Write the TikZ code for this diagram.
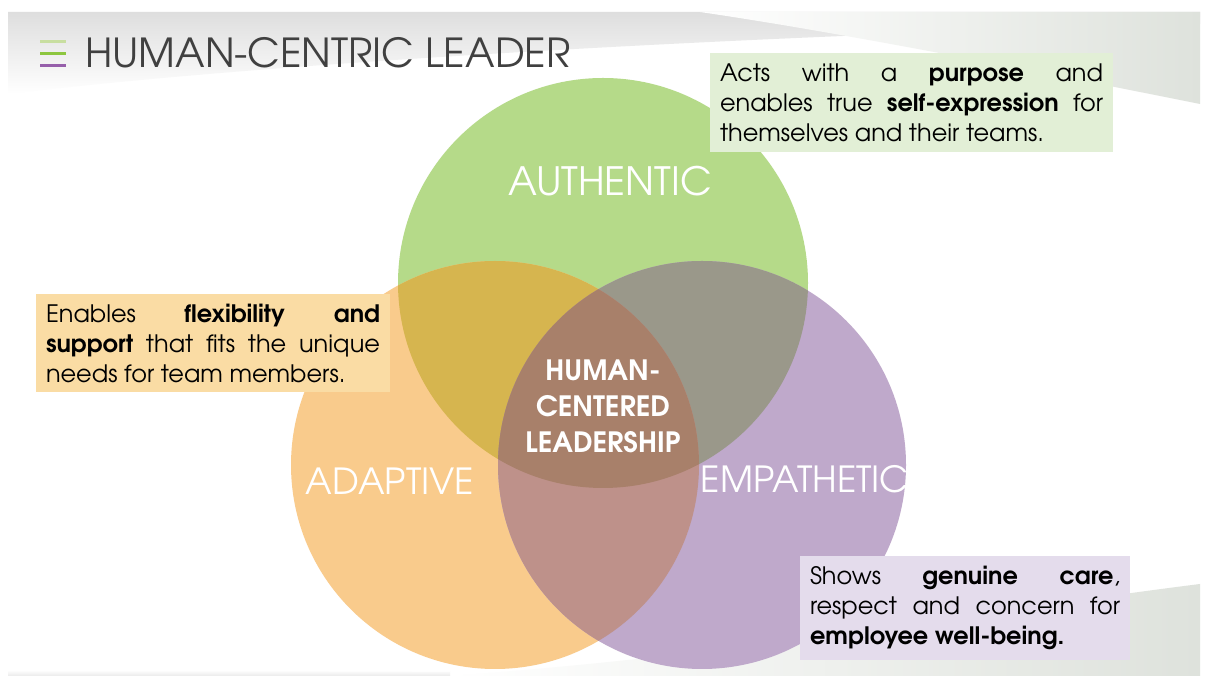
\documentclass[tikz,border=0pt]{standalone}
\usepackage{fontspec}
\setmainfont{TeX Gyre Adventor}
\usetikzlibrary{positioning}

\definecolor{authgreen}{RGB}{181,218,137}
\definecolor{adaporange}{RGB}{249,203,140}
\definecolor{emppurple}{RGB}{191,169,203}
\definecolor{goldmix}{RGB}{214,181,79}
\definecolor{graymix}{RGB}{154,152,138}
\definecolor{rosemix}{RGB}{190,145,138}
\definecolor{brownmix}{RGB}{168,128,106}
\definecolor{greenbox}{RGB}{226,239,214}
\definecolor{orangebox}{RGB}{250,220,164}
\definecolor{purplebox}{RGB}{228,220,236}
\definecolor{titlegray}{RGB}{64,64,64}
\definecolor{lightbar}{RGB}{200,222,160}
\definecolor{greenbar}{RGB}{141,198,63}
\definecolor{purplebar}{RGB}{150,95,170}
\definecolor{swoosh}{RGB}{222,226,220}

\tikzset{
  ringlabel/.style={text=white, font=\fontsize{36}{40}\selectfont},
  notebox/.style={inner sep=10pt, text width=#1, align=justify,
    font=\fontsize{24}{30}\selectfont, text=black},
}

\begin{document}
\begin{tikzpicture}[x=1pt,y=1pt]
        \useasboundingbox (0,0) rectangle (1209,684);
        \fill[white] (0,0) rectangle (1209,684);

        \shade[top color=black!13, bottom color=white] (8,672) -- (1200,672) -- (1200,660) .. controls (800,650) and (300,625) .. (8,590) -- cycle;
        \shade[left color=white, right color=swoosh] (700,672) -- (1200,672) -- (1200,580) .. controls (1050,610) and (850,650) .. (700,672) -- cycle;
        \shade[left color=white, right color=swoosh] (450,8) -- (1200,8) -- (1200,100) .. controls (1000,75) and (750,30) .. (450,8) -- cycle;
        \shade[top color=white, bottom color=black!8] (8,8) -- (450,8) -- (450,12) .. controls (300,13) and (100,14) .. (8,14) -- cycle;

        \coordinate (auth) at (603,401);
        \coordinate (adap) at (495,219);
        \coordinate (empa) at (702,219);

        \fill[authgreen] (auth) circle (205);
        \fill[adaporange] (adap) circle (204);
        \fill[emppurple] (empa) circle (204);
        \begin{scope}
            \clip (auth) circle (205);
            \fill[goldmix] (adap) circle (204);
            \fill[graymix] (empa) circle (204);
        \end{scope}
        \begin{scope}
            \clip (adap) circle (204);
            \fill[rosemix] (empa) circle (204);
        \end{scope}
        \begin{scope}
            \clip (auth) circle (205);
            \clip (adap) circle (204);
            \fill[brownmix] (empa) circle (204);
        \end{scope}

        \node[ringlabel, font=\fontsize{39}{42}\selectfont] (authentic) at (610,503) {AUTHENTIC};
        \node[ringlabel] (adaptive) at (390,203) {ADAPTIVE};
        \node[ringlabel] (empathetic) at (805,205) {EMPATHETIC};
        \node[text=white, align=center, font=\bfseries\fontsize{28}{36}\selectfont] (core) at (603,278) {HUMAN-\\CENTERED\\LEADERSHIP};

        \node[notebox=383pt, fill=greenbox] (purpose) at (911.5,581.5) {Acts with a \textbf{purpose} and\linebreak enables true \textbf{self-expression} for\linebreak themselves and their teams.};
        \node[notebox=334pt, fill=orangebox] (flex) at (213,341) {Enables \textbf{flexibility and}\linebreak \textbf{support} that fits the unique\linebreak needs for team members.};
        \node[notebox=310pt, fill=purplebox] (care) at (965,76) {Shows \textbf{genuine care},\linebreak respect and concern for\linebreak \textbf{employee well-being.}};

        \draw[line width=3, lightbar] (40,642) -- (66,642);
        \draw[line width=3, greenbar] (40,630) -- (66,630);
        \draw[line width=3, purplebar] (40,618) -- (66,618);
        \node[anchor=west, inner sep=0pt, text=titlegray, font=\fontsize{40}{44}\selectfont] (title) at (85,631) {HUMAN-CENTRIC LEADER};
\end{tikzpicture}
\end{document}
